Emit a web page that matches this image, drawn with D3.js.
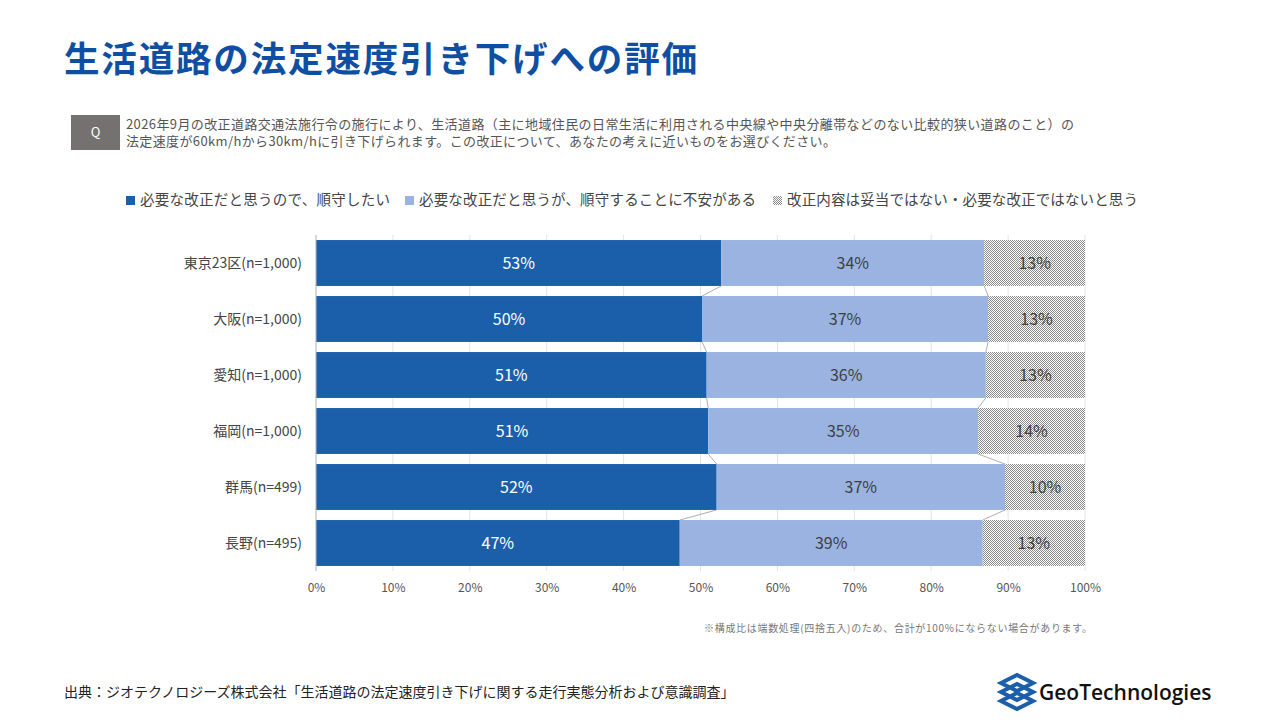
<!DOCTYPE html>
<html><head><meta charset="utf-8">
<script src="https://cdn.jsdelivr.net/npm/d3@7"></script>
<style>body{margin:0;background:#fff;font-family:"Noto Sans CJK JP","Noto Sans",sans-serif;}</style>
</head><body><svg id="c" width="1282" height="720"></svg>
<script>
const categories = ["東京23区(n=1,000)","大阪(n=1,000)","愛知(n=1,000)","福岡(n=1,000)","群馬(n=499)","長野(n=495)"];
const seriesNames = ["必要な改正だと思うので、順守したい","必要な改正だと思うが、順守することに不安がある","改正内容は妥当ではない・必要な改正ではないと思う"];
const comply  = [52.7, 50.2, 50.8, 51.0, 52.1, 47.3];
const anxious = [34.2, 37.2, 36.3, 35.1, 37.5, 39.4];
const against = [13.1, 12.6, 12.9, 13.9, 10.4, 13.3];
const labels = [["53%","34%","13%"],["50%","37%","13%"],["51%","36%","13%"],["51%","35%","14%"],["52%","37%","10%"],["47%","39%","13%"]];
const ticks = [0,10,20,30,40,50,60,70,80,90,100];

const svg = d3.select("#c");
const F = '"Noto Sans CJK JP",sans-serif';
const defs = svg.append("defs");
const pat = defs.append("pattern").attr("id","chk").attr("width",2).attr("height",2).attr("patternUnits","userSpaceOnUse");
pat.append("rect").attr("width",2).attr("height",2).attr("fill","#fff");
pat.append("rect").attr("width",1).attr("height",1).attr("fill","#8a8a8a");
pat.append("rect").attr("x",1).attr("y",1).attr("width",1).attr("height",1).attr("fill","#8a8a8a");
const colors = ["#1b5fab","#9ab3e0","url(#chk)"];

svg.append("text").attr("x",64).attr("y",72).attr("font-size",35.5).attr("font-weight",700)
  .attr("fill","#0f4fa3").attr("font-family",F).attr("textLength",633).text("生活道路の法定速度引き下げへの評価");
svg.append("rect").attr("x",71).attr("y",115).attr("width",49).attr("height",35).attr("fill","#767171");
svg.append("text").attr("x",95.5).attr("y",137).attr("text-anchor","middle").attr("fill","#fff").attr("font-size",13).attr("font-family",F).text("Q");
svg.append("text").attr("x",126).attr("y",129).attr("font-size",13).attr("fill","#555").attr("font-family",F).attr("textLength",948)
  .text("2026年9月の改正道路交通法施行令の施行により、生活道路（主に地域住民の日常生活に利用される中央線や中央分離帯などのない比較的狭い道路のこと）の");
svg.append("text").attr("x",126).attr("y",146).attr("font-size",13).attr("fill","#555").attr("font-family",F).attr("textLength",710)
  .text("法定速度が60km/hから30km/hに引き下げられます。この改正について、あなたの考えに近いものをお選びください。");

const lx = [126, 405, 773];
const lw = [250, 337, 351];
seriesNames.forEach((n,i)=>{
  svg.append("rect").attr("x",lx[i]).attr("y",196).attr("width",9).attr("height",9).attr("fill",colors[i]);
  svg.append("text").attr("x",lx[i]+14).attr("y",205).attr("font-size",14.5).attr("fill","#444").attr("font-family",F).attr("textLength",lw[i]).text(n);
});

const x = d3.scaleLinear().domain([0,100]).range([316,1085]);
const y = d3.scaleBand().domain(categories).range([235,571]).paddingInner(0.18).paddingOuter(0.09);
const g = svg.append("g");
g.selectAll(".gl").data(ticks).join("line").attr("x1",d=>x(d)).attr("x2",d=>x(d)).attr("y1",235).attr("y2",571)
  .attr("stroke","#e3e3e3");
const data = categories.map((c,i)=>({c, v:[comply[i],anxious[i],against[i]], l:labels[i]}));
data.forEach(d=>{
  let acc=0;
  d.seg = d.v.map(v=>{const s={x0:acc,x1:acc+v}; acc+=v; return s;});
  d.seg[2].x1 = 100;
});
for (let i=0;i<data.length-1;i++){
  [0,1].forEach(k=>{
    g.append("line").attr("x1",x(data[i].seg[k].x1)).attr("y1",y(data[i].c)+y.bandwidth())
      .attr("x2",x(data[i+1].seg[k].x1)).attr("y2",y(data[i+1].c)).attr("stroke","#999").attr("stroke-width",0.8);
  });
}
data.forEach(d=>{
  d.seg.forEach((s,k)=>{
    g.append("rect").attr("x",x(s.x0)).attr("y",y(d.c)).attr("width",x(s.x1)-x(s.x0)).attr("height",y.bandwidth()).attr("fill",colors[k]);
    g.append("text").attr("x",(x(s.x0)+x(s.x1))/2).attr("y",y(d.c)+y.bandwidth()/2+6).attr("text-anchor","middle")
      .attr("font-size",16).attr("font-family",F).attr("fill",k===0?"#fff":"#404040").text(d.l[k]);
  });
  g.append("text").attr("x",302).attr("y",y(d.c)+y.bandwidth()/2+5).attr("text-anchor","end")
    .attr("font-size",14).attr("fill","#444").attr("font-family",F).text(d.c);
});
g.append("line").attr("x1",316).attr("x2",316).attr("y1",235).attr("y2",571).attr("stroke","#bbb");
const ax = svg.append("g").attr("transform","translate(0,571)").call(d3.axisBottom(x).tickValues(ticks).tickFormat(d=>d+"%").tickSize(0).tickPadding(12));
ax.select(".domain").remove();
ax.selectAll("text").attr("font-size",12).attr("fill","#555").attr("font-family",F);

svg.append("text").attr("x",1092).attr("y",632).attr("text-anchor","end").attr("font-size",10).attr("fill","#777").attr("font-family",F).attr("textLength",388)
  .text("※構成比は端数処理(四捨五入)のため、合計が100%にならない場合があります。");
svg.append("text").attr("x",64).attr("y",697).attr("font-size",14).attr("fill","#222").attr("font-family",F)
  .text("出典：ジオテクノロジーズ株式会社「生活道路の法定速度引き下げに関する走行実態分析および意識調査」");
const lg = svg.append("g").attr("transform","translate(1017,692)");
[-9,0,9].forEach(dy=>lg.append("path").attr("d",`M-16 ${dy} L0 ${dy-8} L16 ${dy} L0 ${dy+8} Z`)
  .attr("fill","none").attr("stroke","#1b5fab").attr("stroke-width",4));
svg.append("text").attr("x",1039).attr("y",700).attr("font-size",21).attr("font-weight",600).attr("fill","#111").attr("font-family","'Open Sans',sans-serif").text("GeoTechnologies");
</script></body></html>
